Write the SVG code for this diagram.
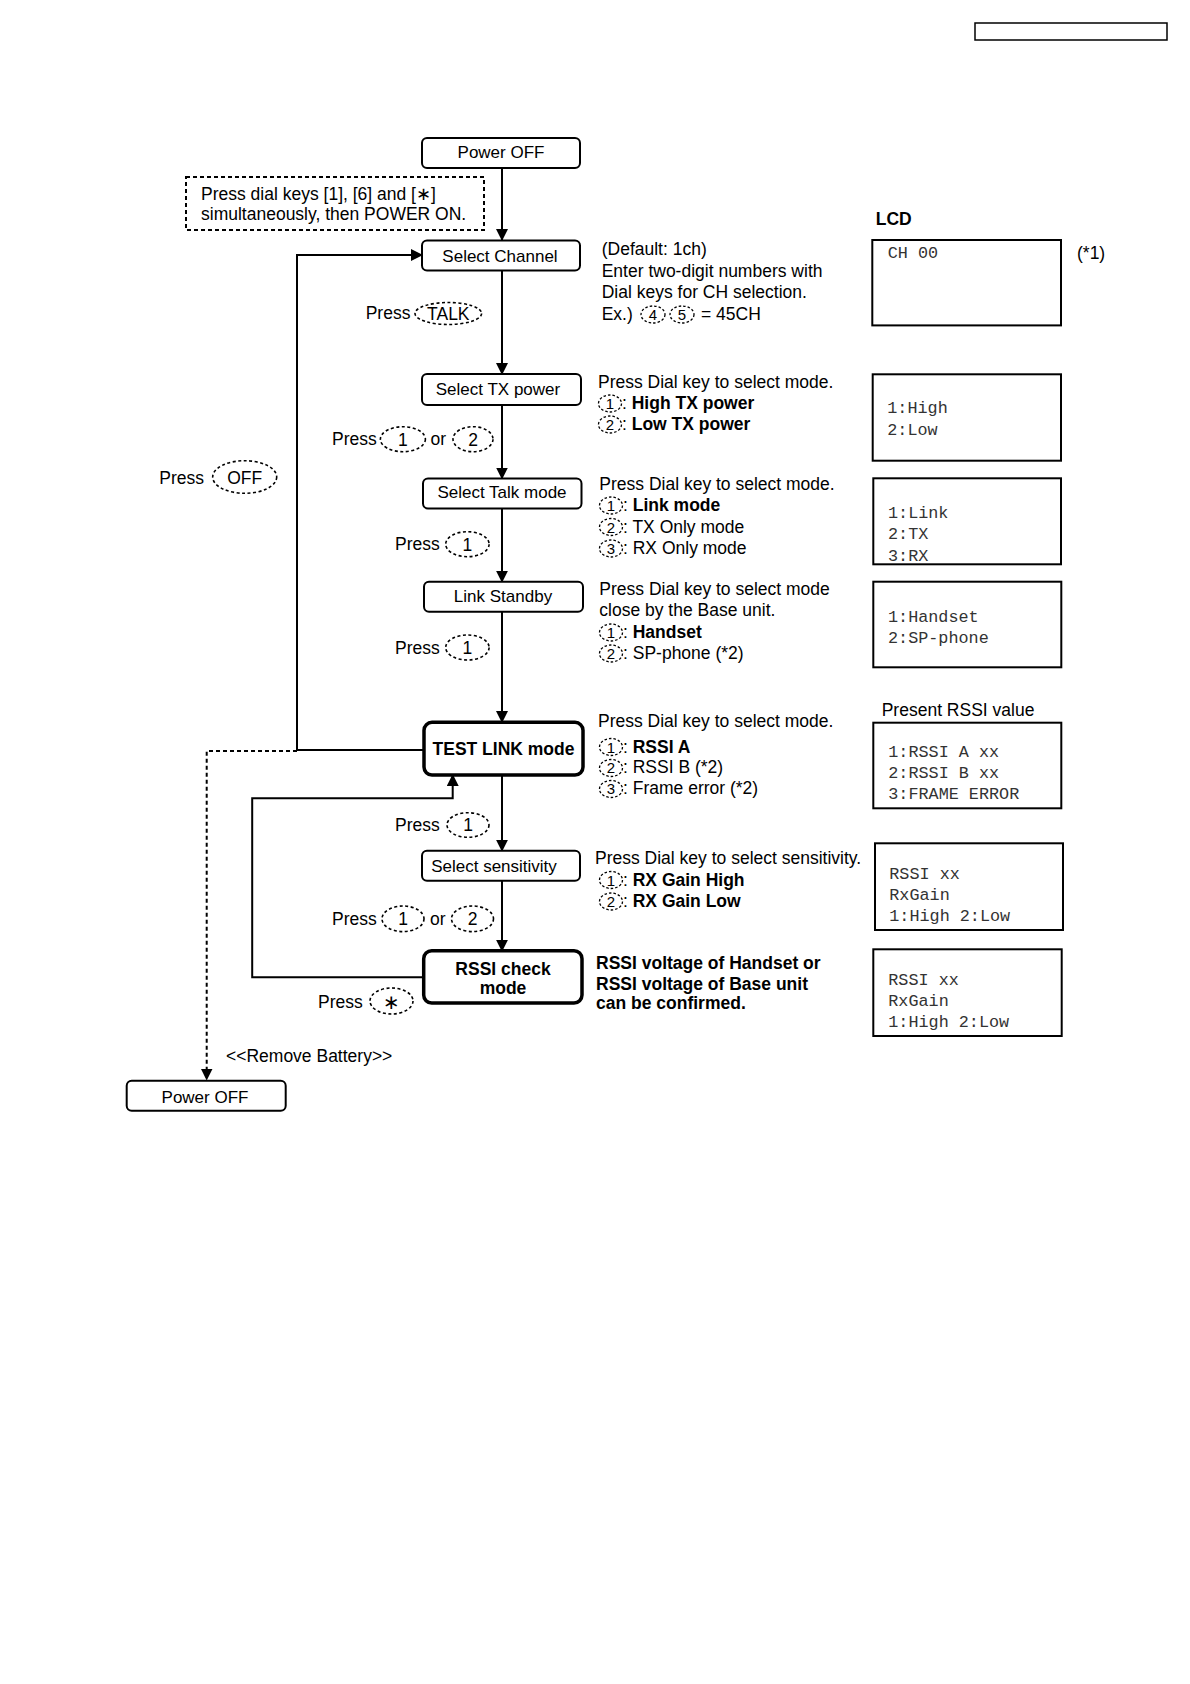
<svg xmlns="http://www.w3.org/2000/svg" width="1190" height="1684" viewBox="0 0 1190 1684">
<defs>
<marker id="ah" viewBox="0 0 12 12" markerWidth="12" markerHeight="12" refX="11" refY="6" orient="auto" markerUnits="userSpaceOnUse"><path d="M0,0 L12,6 L0,12 z" fill="#000"/></marker>
</defs>
<style>
text{font-family:"Liberation Sans",Arial,sans-serif;font-size:17.5px;fill:#000}
.b{font-weight:bold}
.c{text-anchor:middle}
.p{font-size:17.5px}
.n{font-size:17px}
.m{font-family:"Liberation Mono","Courier New",monospace;font-size:16.8px;fill:#333}
.box{fill:#fff;stroke:#000;stroke-width:2}
.tbox{fill:#fff;stroke:#000;stroke-width:3.5}
.lcd{fill:#fff;stroke:#000;stroke-width:2}
.ln{fill:none;stroke:#000;stroke-width:2}
.dl{fill:none;stroke:#000;stroke-width:2;stroke-dasharray:4 3}
.key{fill:none;stroke:#000;stroke-width:1.6;stroke-dasharray:3 2.5}
.sk{fill:none;stroke:#000;stroke-width:1.3;stroke-dasharray:2.5 2}
.k{font-size:15px;text-anchor:middle}
</style>
<rect x="975" y="23" width="192" height="17" fill="none" stroke="#000" stroke-width="1.5"/>

<g id="connectors">
<line class="ln" x1="502" y1="168" x2="502" y2="240" marker-end="url(#ah)"/>
<line class="ln" x1="502" y1="270.5" x2="502" y2="374" marker-end="url(#ah)"/>
<line class="ln" x1="502" y1="405" x2="502" y2="478.5" marker-end="url(#ah)"/>
<line class="ln" x1="502" y1="508.5" x2="502" y2="581.7" marker-end="url(#ah)"/>
<line class="ln" x1="502" y1="611.7" x2="502" y2="722" marker-end="url(#ah)"/>
<line class="ln" x1="502" y1="775" x2="502" y2="850.7" marker-end="url(#ah)"/>
<line class="ln" x1="502" y1="880.7" x2="502" y2="950.7" marker-end="url(#ah)"/>
<polyline class="ln" points="424,750 297,750 297,255 422,255" marker-end="url(#ah)"/>
<polyline class="ln" points="424,977.3 252.2,977.3 252.2,798.3 452.7,798.3 452.7,775" marker-end="url(#ah)"/>
<polyline class="dl" points="297,751 206.7,751 206.7,1079.5" marker-end="url(#ah)"/>
</g>

<g id="power-off-top"><rect class="box" x="422" y="138" width="158" height="30" rx="5"/><text class="c n" x="501" y="158.3">Power OFF</text></g>
<g id="start-note"><rect x="186" y="177" width="298" height="53" fill="none" stroke="#000" stroke-width="2" stroke-dasharray="4 3"/>
<text x="201" y="200">Press dial keys [1], [6] and [∗]</text>
<text x="201" y="220">simultaneously, then POWER ON.</text></g>
<g id="select-channel"><rect class="box" x="422" y="240.5" width="158" height="30" rx="5"/><text class="c n" x="500" y="261.7">Select Channel</text></g>
<g id="select-tx"><rect class="box" x="422" y="374" width="159" height="31" rx="5"/><text class="c n" x="498" y="395">Select TX power</text></g>
<g id="select-talk"><rect class="box" x="423" y="478.5" width="158.5" height="30" rx="5"/><text class="c n" x="502" y="498.3">Select Talk mode</text></g>
<g id="link-standby"><rect class="box" x="424" y="581.7" width="159" height="30" rx="5"/><text class="c n" x="503" y="601.7">Link Standby</text></g>
<g id="test-link"><rect class="tbox" x="424" y="722.3" width="159" height="52.7" rx="8"/><text class="c b p" x="503.5" y="755">TEST LINK mode</text></g>
<g id="select-sens"><rect class="box" x="422" y="850.7" width="158" height="30" rx="5"/><text class="c n" x="494" y="872.3">Select sensitivity</text></g>
<g id="rssi-check"><rect class="tbox" x="423.7" y="950.7" width="158.3" height="52.3" rx="8"/><text class="c b p" x="503" y="975">RSSI check</text><text class="c b p" x="503" y="994">mode</text></g>
<g id="power-off-bottom"><rect class="box" x="126.7" y="1080.7" width="159" height="30" rx="5"/><text class="c n" x="205" y="1102.7">Power OFF</text></g>

<g id="press-labels">
<text class="p" x="365.7" y="319">Press</text><ellipse class="key" cx="448.3" cy="313.5" rx="33.3" ry="11"/><text class="c p" x="448.3" y="320">TALK</text>
<text class="p" x="159.3" y="484">Press</text><ellipse class="key" cx="244.7" cy="477" rx="32" ry="16.3"/><text class="c p" x="244.7" y="484">OFF</text>
<text class="p" x="332" y="445">Press</text><ellipse class="key" cx="402.9" cy="439.2" rx="22.5" ry="12.5"/><text class="c p" x="402.9" y="445.5">1</text><text class="p" x="430.5" y="445">or</text><ellipse class="key" cx="473" cy="439.2" rx="20" ry="12.5"/><text class="c p" x="473" y="445.5">2</text>
<text class="p" x="395" y="550">Press</text><ellipse class="key" cx="467.4" cy="544.2" rx="21.7" ry="12.5"/><text class="c p" x="467.4" y="550.5">1</text>
<text class="p" x="395" y="654">Press</text><ellipse class="key" cx="467.4" cy="647.5" rx="21.7" ry="12.5"/><text class="c p" x="467.4" y="654">1</text>
<text class="p" x="395" y="830.7">Press</text><ellipse class="key" cx="468" cy="825" rx="21" ry="12.3"/><text class="c p" x="468" y="831.3">1</text>
<text class="p" x="332" y="925">Press</text><ellipse class="key" cx="403" cy="918.8" rx="21" ry="12.8"/><text class="c p" x="403" y="925.3">1</text><text class="p" x="430" y="925">or</text><ellipse class="key" cx="472.5" cy="918.8" rx="21" ry="12.8"/><text class="c p" x="472.5" y="925.3">2</text>
<text class="p" x="318" y="1008">Press</text><ellipse class="key" cx="391.5" cy="1001" rx="21.5" ry="13"/><text class="c" x="391.5" y="1008.5" style="font-family:'DejaVu Sans',sans-serif;font-size:20px">∗</text>
<text x="226" y="1061.7">&lt;&lt;Remove Battery&gt;&gt;</text>
</g>

<g id="desc-channel">
<text x="601.7" y="255">(Default: 1ch)</text>
<text x="601.7" y="277.3">Enter two-digit numbers with</text>
<text x="601.7" y="298.3">Dial keys for CH selection.</text>
<text x="601.7" y="320">Ex.)</text>
<ellipse class="sk" cx="653" cy="314.5" rx="12" ry="8.5"/><text class="k" x="653" y="320">4</text>
<ellipse class="sk" cx="682" cy="314.5" rx="12" ry="8.5"/><text class="k" x="682" y="320">5</text>
<text x="701" y="320">= 45CH</text>
</g>
<g id="desc-tx">
<text x="598" y="387.7">Press Dial key to select mode.</text>
<ellipse class="sk" cx="610" cy="403.5" rx="11.5" ry="8.5"/><text class="k" x="610" y="409">1</text><text x="622" y="409">: <tspan class="b">High TX power</tspan></text>
<ellipse class="sk" cx="610" cy="424.5" rx="11.5" ry="8.5"/><text class="k" x="610" y="430">2</text><text x="622" y="430">: <tspan class="b">Low TX power</tspan></text>
</g>
<g id="desc-talk">
<text x="599.3" y="490">Press Dial key to select mode.</text>
<ellipse class="sk" cx="611" cy="505.5" rx="11.5" ry="8.5"/><text class="k" x="611" y="511">1</text><text x="623" y="511">: <tspan class="b">Link mode</tspan></text>
<ellipse class="sk" cx="611" cy="527" rx="11.5" ry="8.5"/><text class="k" x="611" y="532.7">2</text><text x="623" y="532.7">: TX Only mode</text>
<ellipse class="sk" cx="611" cy="548.5" rx="11.5" ry="8.5"/><text class="k" x="611" y="554">3</text><text x="623" y="554">: RX Only mode</text>
</g>
<g id="desc-link">
<text x="599.3" y="595">Press Dial key to select mode</text>
<text x="599.3" y="616">close by the Base unit.</text>
<ellipse class="sk" cx="611" cy="632.5" rx="11.5" ry="8.5"/><text class="k" x="611" y="638">1</text><text x="623" y="638">: <tspan class="b">Handset</tspan></text>
<ellipse class="sk" cx="611" cy="653.5" rx="11.5" ry="8.5"/><text class="k" x="611" y="659">2</text><text x="623" y="659">: SP-phone (*2)</text>
</g>
<g id="desc-test">
<text x="598" y="726.7">Press Dial key to select mode.</text>
<ellipse class="sk" cx="611" cy="747" rx="11.5" ry="8.5"/><text class="k" x="611" y="752.7">1</text><text x="623" y="752.7">: <tspan class="b">RSSI A</tspan></text>
<ellipse class="sk" cx="611" cy="768" rx="11.5" ry="8.5"/><text class="k" x="611" y="773.3">2</text><text x="623" y="773.3">: RSSI B (*2)</text>
<ellipse class="sk" cx="611" cy="789" rx="11.5" ry="8.5"/><text class="k" x="611" y="794.3">3</text><text x="623" y="794.3">: Frame error (*2)</text>
</g>
<g id="desc-sens">
<text x="595" y="864">Press Dial key to select sensitivity.</text>
<ellipse class="sk" cx="611" cy="880" rx="11.5" ry="8.5"/><text class="k" x="611" y="885.7">1</text><text x="623" y="885.7">: <tspan class="b">RX Gain High</tspan></text>
<ellipse class="sk" cx="611" cy="901.5" rx="11.5" ry="8.5"/><text class="k" x="611" y="907.3">2</text><text x="623" y="907.3">: <tspan class="b">RX Gain Low</tspan></text>
</g>
<g id="desc-rssi">
<text class="b" x="596" y="969.3">RSSI voltage of Handset or</text>
<text class="b" x="596" y="990">RSSI voltage of Base unit</text>
<text class="b" x="596" y="1009.3">can be confirmed.</text>
</g>

<g id="lcd">
<text class="b" x="875.7" y="225">LCD</text>
<text x="1077" y="259">(*1)</text>
<rect class="lcd" x="872.3" y="240" width="188.7" height="85.4"/>
<text class="m" x="887.7" y="258.3">CH 00</text>
<rect class="lcd" x="872.7" y="374.3" width="188.3" height="86.4"/>
<text class="m" x="887.3" y="413.3">1:High</text><text class="m" x="887.3" y="435">2:Low</text>
<rect class="lcd" x="873.3" y="478.3" width="187.7" height="86"/>
<text class="m" x="888" y="517.7">1:Link</text><text class="m" x="888" y="539.3">2:TX</text><text class="m" x="888" y="560.7">3:RX</text>
<rect class="lcd" x="873.3" y="581.7" width="188" height="85.6"/>
<text class="m" x="888" y="621.7">1:Handset</text><text class="m" x="888" y="643">2:SP-phone</text>
<text x="881.7" y="716">Present RSSI value</text>
<rect class="lcd" x="873.3" y="722.7" width="188" height="85.6"/>
<text class="m" x="888.3" y="756.7">1:RSSI A xx</text><text class="m" x="888.3" y="778.3">2:RSSI B xx</text><text class="m" x="888.3" y="799.3">3:FRAME ERROR</text>
<rect class="lcd" x="875" y="843.3" width="188" height="86.7"/>
<text class="m" x="889.3" y="879.3">RSSI xx</text><text class="m" x="889.3" y="900">RxGain</text><text class="m" x="889.3" y="920.7">1:High 2:Low</text>
<rect class="lcd" x="873.3" y="949.3" width="188.4" height="86.7"/>
<text class="m" x="888.3" y="985">RSSI xx</text><text class="m" x="888.3" y="1005.7">RxGain</text><text class="m" x="888.3" y="1026.7">1:High 2:Low</text>
</g>
</svg>
